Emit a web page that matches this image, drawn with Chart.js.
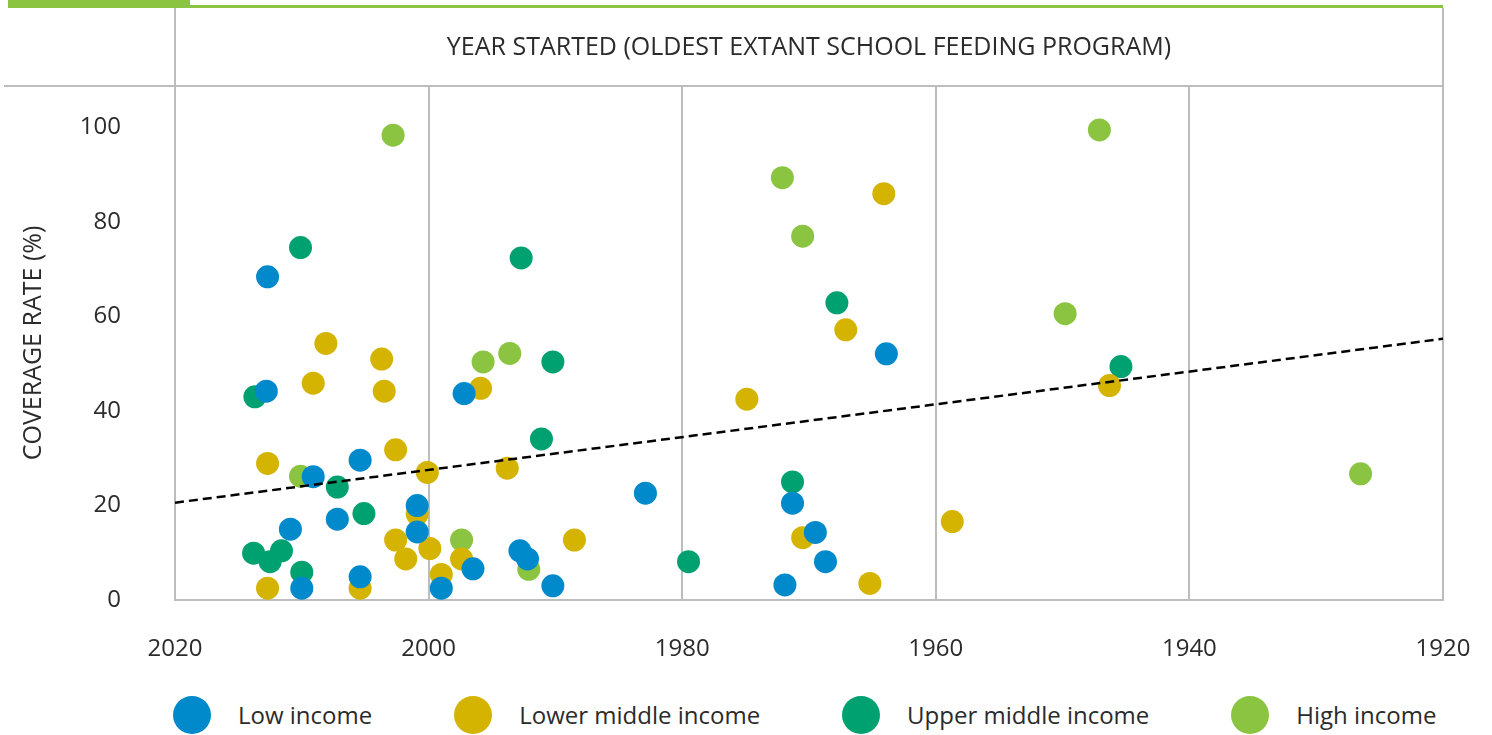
<!DOCTYPE html>
<html>
<head>
<meta charset="utf-8">
<script src="https://cdn.jsdelivr.net/npm/chart.js@4.4.0/dist/chart.umd.min.js"></script>
<style>
  body { margin: 0; background: #fff; font-family: "Open Sans", sans-serif; }
  #wrap { position: relative; width: 1492px; height: 735px; overflow: hidden; }
  #box { position: absolute; left: 0; top: 0; width: 1492px; height: 680px; }
  #legend { position: absolute; left: 173px; top: 696px; display: flex; align-items: center; gap: 82px; font-size: 24px; color: #2b2b2b; }
  .item { display: flex; align-items: center; line-height: 38px; }
  .dot { width: 38px; height: 38px; border-radius: 50%; margin-right: 27px; }
</style>
</head>
<body>
<div id="wrap">
  <div id="box"><canvas id="chart"></canvas></div>
  <div id="legend"></div>
</div>
<script>
// values
const groupNames = ['Low income', 'Lower middle income', 'Upper middle income', 'High income'];
const groupColors = ['#0089CB', '#D4B400', '#00A171', '#8BC441'];

const lowYears = [2012.7, 2012.8, 2009.1, 2010.9, 2005.4, 2007.2, 2010.0, 2005.4, 2000.9, 2000.9, 1999.0, 1997.2, 1996.5, 1992.8, 1992.2, 1990.2, 1982.9, 1971.3, 1969.5, 1968.7, 1971.9, 1963.9];
const lowRates = [68.4, 44.2, 26.1, 15.0, 29.6, 17.1, 2.5, 4.9, 20.0, 14.4, 2.5, 43.7, 6.6, 10.4, 8.7, 3.0, 22.6, 20.5, 14.3, 8.1, 3.2, 52.1];

const lowerYears = [2008.1, 2003.7, 2009.1, 2003.5, 2012.7, 2002.6, 2000.1, 1993.8, 1995.9, 2000.9, 2002.6, 2001.8, 1999.9, 1999.0, 1997.4, 1988.5, 2012.7, 2005.4, 1964.1, 1967.1, 1974.9, 1970.5, 1965.2, 1958.7, 1946.3];
const lowerRates = [54.3, 51.0, 45.9, 44.2, 28.9, 31.8, 27.0, 27.9, 44.8, 18.2, 12.7, 8.7, 10.9, 5.4, 8.7, 12.7, 2.5, 2.5, 86.0, 57.2, 42.5, 13.2, 3.5, 16.6, 45.4];

const upperYears = [2010.1, 1992.7, 2013.7, 1990.2, 1991.1, 2007.2, 2005.1, 2013.8, 2012.5, 2011.6, 2010.0, 1967.8, 1971.3, 1979.5, 1945.4];
const upperRates = [74.6, 72.4, 43.0, 50.4, 34.1, 23.9, 18.3, 9.9, 8.1, 10.4, 5.9, 62.9, 25.0, 8.1, 49.4];

const highYears = [2002.8, 1995.7, 1993.6, 2010.1, 1997.4, 1992.1, 1972.1, 1970.5, 1947.1, 1949.8, 1926.5];
const highRates = [98.4, 50.4, 52.2, 26.2, 12.7, 6.5, 89.4, 77.0, 99.5, 60.6, 26.7];

const trendYears = [2020, 1920];
const trendRates = [20.6, 55.3];

const xTicks = [2020, 2000, 1980, 1960, 1940, 1920];
const yTicks = [0, 20, 40, 60, 80, 100];

const toPoints = (xs, ys) => xs.map((x, i) => ({ x: x, y: ys[i] }));
const groups = [
  toPoints(lowYears, lowRates),
  toPoints(lowerYears, lowerRates),
  toPoints(upperYears, upperRates),
  toPoints(highYears, highRates)
];

const textColor = '#2b2b2b';
const lineGrey = '#bdbdbd';
const family = '"Open Sans", sans-serif';
const tickFont = { family: family, size: 24 };

// header box and green bar on top
const frame = {
  id: 'frame',
  beforeDraw(chart) {
    const ctx = chart.ctx;
    const a = chart.chartArea;
    ctx.save();
    ctx.fillStyle = '#8BC441';
    ctx.fillRect(8, 0, 182, 8);
    ctx.fillRect(190, 5, a.right - 190, 3);
    ctx.strokeStyle = lineGrey;
    ctx.lineWidth = 2;
    ctx.beginPath();
    ctx.moveTo(4, a.top);
    ctx.lineTo(a.right + 1, a.top);
    ctx.moveTo(a.left, 8);
    ctx.lineTo(a.left, a.bottom);
    ctx.moveTo(a.right, 8);
    ctx.lineTo(a.right, a.bottom);
    ctx.stroke();
    ctx.restore();
  }
};

const datasets = [{
  type: 'line',
  label: 'trend',
  data: toPoints(trendYears, trendRates),
  borderColor: '#000',
  borderWidth: 2.5,
  borderDash: [9, 5],
  pointRadius: 0,
  fill: false
}];
groups.forEach((pts, i) => {
  datasets.push({
    label: groupNames[i],
    data: pts,
    backgroundColor: groupColors[i],
    borderWidth: 0,
    pointRadius: 11.5
  });
});

new Chart(document.getElementById('chart'), {
  type: 'scatter',
  data: { datasets: datasets },
  plugins: [frame],
  options: {
    responsive: true,
    maintainAspectRatio: false,
    animation: false,
    events: [],
    layout: { padding: { left: 0, right: 49, top: 0, bottom: 0 } },
    plugins: { legend: { display: false }, tooltip: { enabled: false } },
    scales: {
      x: {
        type: 'linear',
        position: 'bottom',
        reverse: true,
        min: 1920,
        max: 2020,
        afterBuildTicks: s => { s.ticks = xTicks.map(v => ({ value: v })); },
        afterFit: s => { s.height = 80; s.paddingLeft = 0; s.paddingRight = 0; },
        grid: { color: lineGrey, lineWidth: 2, drawTicks: false },
        border: { color: lineGrey, width: 2 },
        ticks: { color: textColor, font: tickFont, padding: 35, maxRotation: 0, callback: v => String(v) }
      },
      x2: {
        type: 'linear',
        position: 'top',
        reverse: true,
        min: 1920,
        max: 2020,
        afterFit: s => { s.height = 86; s.paddingLeft = 0; s.paddingRight = 0; },
        grid: { display: false },
        border: { display: false },
        ticks: { display: false },
        title: {
          display: true,
          text: 'YEAR STARTED (OLDEST EXTANT SCHOOL FEEDING PROGRAM)',
          color: textColor,
          font: { family: family, size: 25 },
          padding: { top: 33, bottom: 0 }
        }
      },
      y: {
        type: 'linear',
        min: 0,
        max: 108.8,
        afterBuildTicks: s => { s.ticks = yTicks.map(v => ({ value: v })); },
        afterFit: s => { s.width = 175; },
        grid: { display: false, drawTicks: false },
        border: { color: lineGrey, width: 2 },
        ticks: { color: textColor, font: tickFont, padding: 54, callback: v => String(v) },
        title: {
          display: true,
          text: 'COVERAGE RATE (%)',
          color: textColor,
          font: { family: family, size: 25 },
          padding: { top: 19, bottom: 0 }
        }
      }
    }
  }
});

// legend
const legend = document.getElementById('legend');
groupNames.forEach((name, i) => {
  const item = document.createElement('div');
  item.className = 'item';
  const dot = document.createElement('span');
  dot.className = 'dot';
  dot.style.background = groupColors[i];
  const label = document.createElement('span');
  label.textContent = name;
  item.appendChild(dot);
  item.appendChild(label);
  legend.appendChild(item);
});
</script>
</body>
</html>
